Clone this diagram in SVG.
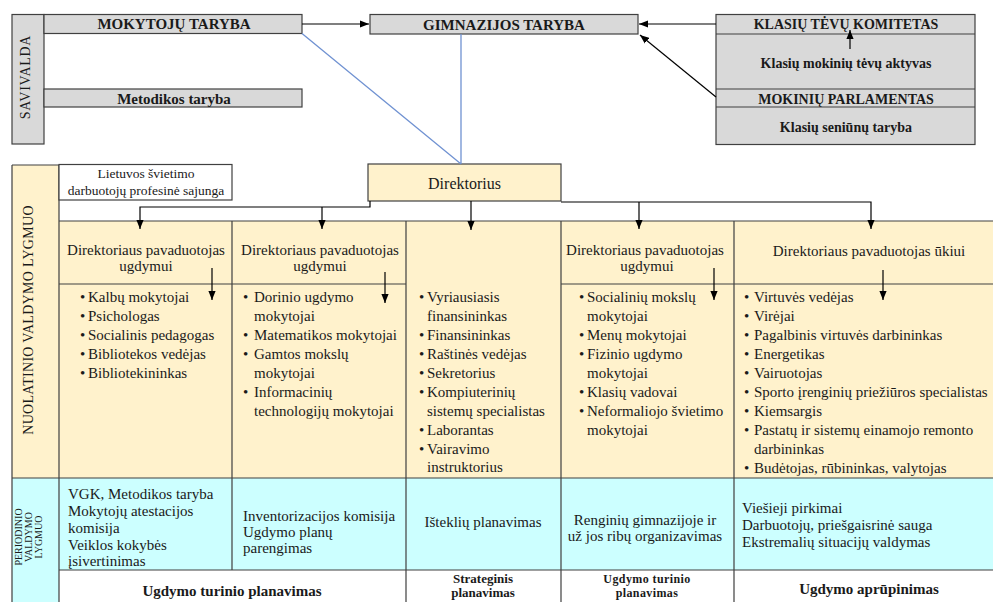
<svg xmlns="http://www.w3.org/2000/svg" width="993" height="602" viewBox="0 0 993 602">
<defs>
<style>
text{font-family:"Liberation Serif","Times New Roman",serif;fill:#1a1a1a}
.b{font-weight:bold}
.t15{font-size:15px}
.t14{font-size:14px}
.t13{font-size:13.5px}
.c{text-anchor:middle}
.gray{fill:#d9d9d9;stroke:#404040;stroke-width:1.2}
.peach{fill:#fff2cc;stroke:none}
.cyan{fill:#ccffff;stroke:none}
.ln{stroke:#404040;stroke-width:1.2;fill:none}
.conn{stroke:#000;stroke-width:1.2;fill:none}
.blue{stroke:#7092d2;stroke-width:1.3;fill:none}
</style>
<marker id="ah" viewBox="0 0 10 8" refX="10" refY="4" markerWidth="9" markerHeight="7.5" markerUnits="userSpaceOnUse" orient="auto"><path d="M0,0 L10,4 L0,8 z" fill="#000"/></marker>
</defs>
<rect width="993" height="602" fill="#fff"/>

<!-- background cells -->
<g id="grid">
<rect class="peach" x="12" y="165" width="47" height="313"/>
<rect class="peach" x="59" y="221" width="934" height="257"/>
<rect class="cyan" x="12" y="478" width="981" height="92"/>
<rect class="cyan" x="12" y="570" width="47" height="32"/>
<path class="ln" d="M12,165 V602 M59,165 V602 M12,165 H59 M59,221 H993 M59,284 H406 M561,284 H993 M12,478 H993 M59,570 H993 M232,221 V570 M406,221 V602 M561,221 V602 M734,221 V602"/>
</g>

<!-- top self-government -->
<g id="savivalda">
<rect class="gray" x="12" y="14.5" width="32" height="129.5"/>
<text class="t14" transform="translate(30,77) rotate(-90)" text-anchor="middle" y="0" letter-spacing="0.7">SAVIVALDA</text>
</g>
<g id="mokytoju-taryba">
<rect class="gray" x="44" y="14.5" width="258" height="19"/>
<text class="b t15 c" x="174" y="29">MOKYTOJŲ TARYBA</text>
</g>
<g id="metodikos-taryba">
<rect class="gray" x="44" y="89" width="258" height="18"/>
<text class="b t15 c" x="174" y="104">Metodikos taryba</text>
</g>
<g id="gimnazijos-taryba">
<rect class="gray" x="370" y="14.5" width="268" height="19.5"/>
<text class="b t15 c" x="504" y="30">GIMNAZIJOS TARYBA</text>
</g>
<g id="klasiu-box">
<rect class="gray" x="716" y="14.5" width="259" height="130"/>
<path class="ln" d="M716,34 H975 M716,89 H975 M716,107 H975"/>
<text class="b t14 c" x="846" y="29">KLASIŲ TĖVŲ KOMITETAS</text>
<text class="b t14 c" x="846" y="68">Klasių mokinių tėvų aktyvas</text>
<text class="b t14 c" x="846" y="104">MOKINIŲ PARLAMENTAS</text>
<text class="b t14 c" x="846" y="132">Klasių seniūnų taryba</text>
</g>

<!-- side labels -->
<g id="nuolatinio">
<text class="t14" transform="translate(28,320) rotate(-90)" text-anchor="middle" y="5" letter-spacing="0.3">NUOLATINIO VALDYMO LYGMUO</text>
</g>
<g id="periodinio">
<text style="font-size:10px" transform="translate(28,537) rotate(-90)" text-anchor="middle"><tspan x="0" y="-6">PERIODINIO</tspan><tspan x="0" y="4">VALDYMO</tspan><tspan x="0" y="14">LYGMUO</tspan></text>
</g>

<g id="profsajunga">
<rect x="59" y="164.5" width="173" height="35.5" fill="#fff" stroke="#404040" stroke-width="1.2"/>
<text class="t13 c" x="146" y="178">Lietuvos švietimo</text>
<text class="t13 c" x="146" y="195">darbuotojų profesinė sajunga</text>
</g>

<g id="direktorius">
<rect x="368" y="164" width="193" height="37" fill="#fff2cc" stroke="#404040" stroke-width="1.2"/>
<text class="c" style="font-size:16px" x="464.5" y="189">Direktorius</text>
</g>

<!-- connectors -->
<g id="connectors">
<path class="conn" d="M302,24 H369" marker-end="url(#ah)"/>
<path class="conn" d="M716,24 H639" marker-end="url(#ah)"/>
<path class="conn" d="M716,97 L640,35" marker-end="url(#ah)"/>
<path class="conn" d="M850,49 V30" marker-end="url(#ah)"/>
<path class="blue" d="M302,33.5 L461,164 M461,34 V164"/>
<path class="conn" d="M370,201 V207 H140 V229" marker-end="url(#ah)"/>
<path class="conn" d="M322,207 V229" marker-end="url(#ah)"/>
<path class="conn" d="M471,201 V230" marker-end="url(#ah)"/>
<path class="conn" d="M561,202 H871 V229" marker-end="url(#ah)"/>
<path class="conn" d="M639,202 V229" marker-end="url(#ah)"/>
<path class="conn" d="M212,268 V300" marker-end="url(#ah)"/>
<path class="conn" d="M385,272 V303" marker-end="url(#ah)"/>
<path class="conn" d="M714,268 V300" marker-end="url(#ah)"/>
<path class="conn" d="M883,270 V300" marker-end="url(#ah)"/>
</g>

<!-- column 1 -->
<g id="col1">
<text class="t15 c" x="146" y="255">Direktoriaus pavaduotojas</text>
<text class="t15 c" x="146" y="271">ugdymui</text>
<text class="t15"><tspan x="80" y="302">•</tspan><tspan x="80" y="321">•</tspan><tspan x="80" y="340">•</tspan><tspan x="80" y="359">•</tspan><tspan x="80" y="378">•</tspan></text>
<text class="t15"><tspan x="88" y="302">Kalbų mokytojai</tspan><tspan x="88" y="321">Psichologas</tspan><tspan x="88" y="340">Socialinis pedagogas</tspan><tspan x="88" y="359">Bibliotekos vedėjas</tspan><tspan x="88" y="378">Bibliotekininkas</tspan></text>
<text class="t15"><tspan x="68" y="499">VGK, Metodikos taryba</tspan><tspan x="68" y="516">Mokytojų atestacijos</tspan><tspan x="68" y="533">komisija</tspan><tspan x="68" y="550">Veiklos kokybės</tspan><tspan x="68" y="566">įsivertinimas</tspan></text>
</g>

<!-- column 2 -->
<g id="col2">
<text class="t15 c" x="320" y="255">Direktoriaus pavaduotojas</text>
<text class="t15 c" x="320" y="271">ugdymui</text>
<text class="t15"><tspan x="243" y="302">•</tspan><tspan x="243" y="340">•</tspan><tspan x="243" y="359">•</tspan><tspan x="243" y="397">•</tspan></text>
<text class="t15"><tspan x="254" y="302">Dorinio ugdymo</tspan><tspan x="254" y="321">mokytojai</tspan><tspan x="254" y="340">Matematikos mokytojai</tspan><tspan x="254" y="359">Gamtos mokslų</tspan><tspan x="254" y="378">mokytojai</tspan><tspan x="254" y="397">Informacinių</tspan><tspan x="254" y="416">technologijų mokytojai</tspan></text>
<text class="t15"><tspan x="243" y="521">Inventorizacijos komisija</tspan><tspan x="243" y="537">Ugdymo planų</tspan><tspan x="243" y="553">parengimas</tspan></text>
</g>

<!-- column 3 -->
<g id="col3">
<text class="t15"><tspan x="419" y="302">•</tspan><tspan x="419" y="340">•</tspan><tspan x="419" y="359">•</tspan><tspan x="419" y="378">•</tspan><tspan x="419" y="397">•</tspan><tspan x="419" y="435">•</tspan><tspan x="419" y="454">•</tspan></text>
<text class="t15"><tspan x="427" y="302">Vyriausiasis</tspan><tspan x="427" y="321">finansininkas</tspan><tspan x="427" y="340">Finansininkas</tspan><tspan x="427" y="359">Raštinės vedėjas</tspan><tspan x="427" y="378">Sekretorius</tspan><tspan x="427" y="397">Kompiuterinių</tspan><tspan x="427" y="416">sistemų specialistas</tspan><tspan x="427" y="435">Laborantas</tspan><tspan x="427" y="454">Vairavimo</tspan><tspan x="427" y="472">instruktorius</tspan></text>
<text class="t15 c" x="483" y="527">Išteklių planavimas</text>
</g>

<!-- column 4 -->
<g id="col4">
<text class="t15 c" x="645" y="255">Direktoriaus pavaduotojas</text>
<text class="t15 c" x="647" y="271">ugdymui</text>
<text class="t15"><tspan x="579" y="302">•</tspan><tspan x="579" y="340">•</tspan><tspan x="579" y="359">•</tspan><tspan x="579" y="397">•</tspan><tspan x="579" y="416">•</tspan></text>
<text class="t15"><tspan x="587" y="302">Socialinių mokslų</tspan><tspan x="587" y="321">mokytojai</tspan><tspan x="587" y="340">Menų mokytojai</tspan><tspan x="587" y="359">Fizinio ugdymo</tspan><tspan x="587" y="378">mokytojai</tspan><tspan x="587" y="397">Klasių vadovai</tspan><tspan x="587" y="416">Neformaliojo švietimo</tspan><tspan x="587" y="435">mokytojai</tspan></text>
<text class="t15 c" x="645" y="525">Renginių gimnazijoje ir</text>
<text class="t15 c" x="645" y="541">už jos ribų organizavimas</text>
</g>

<!-- column 5 -->
<g id="col5">
<text class="t15 c" x="869" y="256">Direktoriaus pavaduotojas ūkiui</text>
<text class="t15"><tspan x="744" y="302">•</tspan><tspan x="744" y="321">•</tspan><tspan x="744" y="340">•</tspan><tspan x="744" y="359">•</tspan><tspan x="744" y="378">•</tspan><tspan x="744" y="397">•</tspan><tspan x="744" y="416">•</tspan><tspan x="744" y="435">•</tspan><tspan x="744" y="473">•</tspan></text>
<text class="t15"><tspan x="754" y="302">Virtuvės vedėjas</tspan><tspan x="754" y="321">Virėjai</tspan><tspan x="754" y="340">Pagalbinis virtuvės darbininkas</tspan><tspan x="754" y="359">Energetikas</tspan><tspan x="754" y="378">Vairuotojas</tspan><tspan x="754" y="397">Sporto įrenginių priežiūros specialistas</tspan><tspan x="754" y="416">Kiemsargis</tspan><tspan x="754" y="435">Pastatų ir sistemų einamojo remonto</tspan><tspan x="754" y="454">darbininkas</tspan><tspan x="754" y="473">Budėtojas, rūbininkas, valytojas</tspan></text>
<text class="t15"><tspan x="742" y="513">Viešieji pirkimai</tspan><tspan x="742" y="530">Darbuotojų, priešgaisrinė sauga</tspan><tspan x="742" y="547">Ekstremalių situacijų valdymas</tspan></text>
</g>

<!-- bottom row -->
<g id="bottom-row">
<text class="b t15 c" x="232" y="596">Ugdymo turinio planavimas</text>
<text class="b c" style="font-size:13px" x="483" y="583">Strateginis</text>
<text class="b c" style="font-size:13px" x="483" y="597">planavimas</text>
<text class="b c" style="font-size:12px" x="647" y="583" letter-spacing="0.4">Ugdymo turinio</text>
<text class="b c" style="font-size:12px" x="647" y="597" letter-spacing="0.4">planavimas</text>
<text class="b t15 c" x="869" y="594">Ugdymo aprūpinimas</text>
</g>
</svg>
